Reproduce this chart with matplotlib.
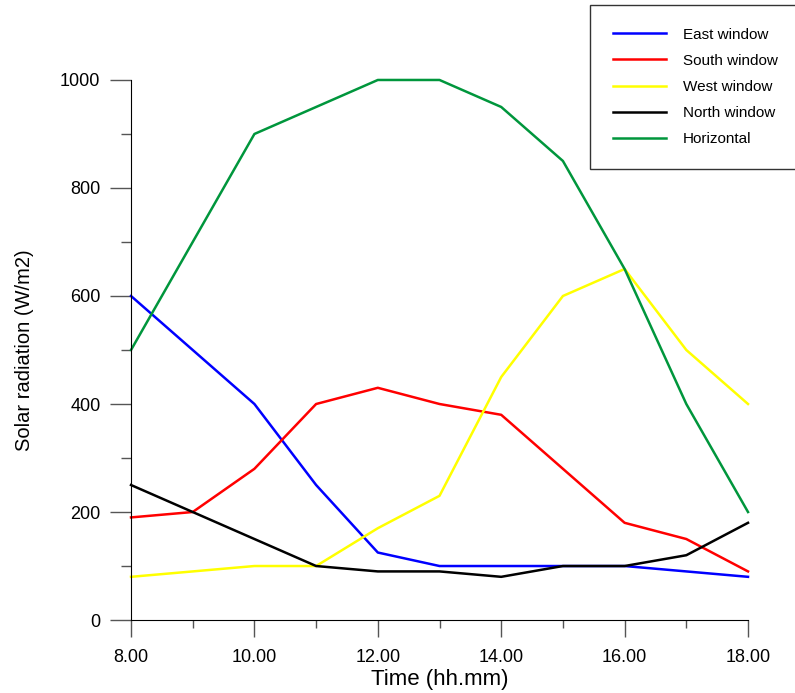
import matplotlib
matplotlib.use("Agg")
import matplotlib.pyplot as plt
from matplotlib.ticker import MultipleLocator, FormatStrFormatter

plt.rcParams['font.family'] = ['Liberation Sans', 'DejaVu Sans']

# hourly readings, 8.00 to 18.00
hours = [8, 9, 10, 11, 12, 13, 14, 15, 16, 17, 18]
east = [600, 500, 400, 250, 125, 100, 100, 100, 100, 90, 80]
south = [190, 200, 280, 400, 430, 400, 380, 280, 180, 150, 90]
west = [80, 90, 100, 100, 170, 230, 450, 600, 650, 500, 400]
north = [250, 200, 150, 100, 90, 90, 80, 100, 100, 120, 180]
horizontal = [500, 700, 900, 950, 1000, 1000, 950, 850, 650, 400, 200]

series = [
    ("East window", east, "#0000ff"),
    ("South window", south, "#ff0000"),
    ("West window", west, "#ffff00"),
    ("North window", north, "#000000"),
    ("Horizontal", horizontal, "#00963c"),
]

fig = plt.figure(figsize=(7.95, 6.93), dpi=100)
ax = fig.add_axes([0.1648, 0.1053, 0.7761, 0.7793])

for name, vals, col in series:
    ax.plot(hours, vals, color=col, lw=1.8, label=name, clip_on=False)

ax.set_xlim(8, 18)
ax.set_ylim(0, 1000)
ax.spines['top'].set_visible(False)
ax.spines['right'].set_visible(False)

ax.xaxis.set_major_locator(MultipleLocator(2))
ax.xaxis.set_minor_locator(MultipleLocator(1))
ax.xaxis.set_major_formatter(FormatStrFormatter('%.2f'))
ax.yaxis.set_major_locator(MultipleLocator(200))
ax.yaxis.set_minor_locator(MultipleLocator(100))

ax.tick_params(axis='y', which='major', direction='out', length=15, width=1, color='#555555', pad=7, labelsize=13)
ax.tick_params(axis='y', which='minor', direction='out', length=7, width=1, color='#555555')
ax.tick_params(axis='x', which='major', direction='out', length=12, width=1, color='#555555', pad=9, labelsize=13)
ax.tick_params(axis='x', which='minor', direction='out', length=6, width=1, color='#555555')

ax.set_xlabel("Time (hh.mm)", fontsize=16, labelpad=2)
ax.set_ylabel("Solar radiation (W/m2)", fontsize=14.5, labelpad=19)

leg = ax.legend(loc='upper left', bbox_to_anchor=(0.742, 0.993), bbox_transform=fig.transFigure,
                fontsize=11, frameon=True, fancybox=False, edgecolor='black',
                handlelength=3.5, handletextpad=1.1, labelspacing=0.79,
                borderpad=1.5, borderaxespad=0)
leg.get_frame().set_linewidth(1.0)
leg.get_frame().set_boxstyle('square', pad=0)

fig.savefig("out.png", dpi=100)
